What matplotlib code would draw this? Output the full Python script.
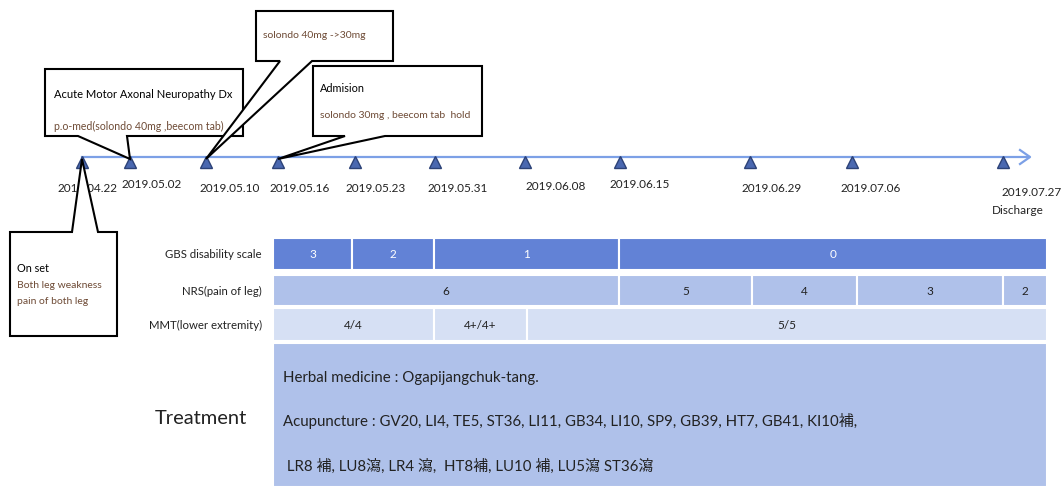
import matplotlib.pyplot as plt
from matplotlib.patches import Rectangle, Polygon

# ---- data ----
dates = ['2019.04.22', '2019.05.02', '2019.05.10', '2019.05.16', '2019.05.23', '2019.05.31',
         '2019.06.08', '2019.06.15', '2019.06.29', '2019.07.06', '2019.07.27']
row_labels = ['GBS disability scale', 'NRS(pain of leg)', 'MMT(lower extremity)']
# (label, first edge index, last edge index)
gbs = [('3', 0, 1), ('2', 1, 2), ('1', 2, 4), ('0', 4, 8)]
nrs = [('6', 0, 4), ('5', 4, 5), ('4', 5, 6), ('3', 6, 7), ('2', 7, 8)]
mmt = [('4/4', 0, 2), ('4+/4+', 2, 3), ('5/5', 3, 8)]
treatment = ['Herbal medicine : Ogapijangchuk-tang.',
             'Acupuncture : GV20, LI4, TE5, ST36, LI11, GB34, LI10, SP9, GB39, HT7, GB41, KI10補,',
             ' LR8 補, LU8瀉, LR4 瀉,  HT8補, LU10 補, LU5瀉 ST36瀉']

# ---- layout (pixel coordinates) ----
mark_x = [82, 130, 206, 278, 355, 435, 525, 620, 750, 852, 1003]
label_x = [87, 152, 230, 300, 376, 458, 556, 640, 772, 871, 1002]
label_y = [188, 185, 188, 188, 188, 188, 187, 185, 188, 188, 192]
edges = [273, 352, 434, 527, 619, 752, 857, 1003, 1047]
rows_y = [(239, 271), (276, 307), (309, 342)]
row_colors = ['#6282d6', '#afc1ea', '#d6e0f4']
text_colors = ['white', '#222222', '#222222']

FONT = ['Lato', 'Noto Sans CJK KR', 'DejaVu Sans']
BROWN = '#6e4b36'
LINE = '#7ca0e6'

fig = plt.figure(figsize=(10.63, 4.89), dpi=100)
ax = fig.add_axes([0, 0, 1, 1])
ax.set_xlim(0, 1063)
ax.set_ylim(489, 0)
ax.axis('off')

# timeline
ax.plot([mark_x[0], 1029], [158, 158], color=LINE, lw=1.6, zorder=2)
ax.plot([1020, 1030, 1020], [151, 158, 165], color=LINE, lw=1.6, zorder=2)
ax.plot(mark_x, [163] * len(mark_x), linestyle='none', marker='^', markersize=8.5,
        markerfacecolor='#4a68b0', markeredgecolor='#2c4277', markeredgewidth=1, zorder=4)
for i, d in enumerate(dates):
    ha = 'left' if i == len(dates) - 1 else 'center'
    ax.text(label_x[i], label_y[i], d, ha=ha, va='center', fontsize=8.5,
            family=FONT, color='#222222')
ax.text(992, 211, 'Discharge', ha='left', va='center', fontsize=8.5, family=FONT, color='#222222')


def callout(box, base, tip, lines):
    x0, y0, x1, y1 = box
    bx0, bx1 = base
    if tip[1] > y1:
        pts = [(x0, y0), (x1, y0), (x1, y1), (bx1, y1), tip, (bx0, y1), (x0, y1)]
    else:
        pts = [(x0, y0), (bx0, y0), tip, (bx1, y0), (x1, y0), (x1, y1), (x0, y1)]
    ax.add_patch(Polygon(pts, closed=True, facecolor='white', edgecolor='black',
                         lw=1.5, joinstyle='miter', zorder=5))
    for tx, ty, s, c, fs in lines:
        ax.text(tx, ty, s, ha='left', va='center', fontsize=fs, family=FONT,
                color=c, zorder=6)


callout((45, 70, 243, 137), (78, 127), (130, 160),
        [(54, 95, 'Acute Motor Axonal Neuropathy Dx', 'black', 8),
         (54, 126, 'p.o-med(solondo 40mg ,beecom tab)', BROWN, 7.6)])
callout((256, 12, 393, 62), (280, 312), (206, 160),
        [(263, 36, 'solondo 40mg ->30mg', BROWN, 7.5)])
callout((313, 67, 482, 137), (345, 385), (278, 160),
        [(320, 88, 'Admision', 'black', 7.8),
         (320, 115, 'solondo 30mg , beecom tab  hold', BROWN, 7.5)])
callout((10, 233, 117, 337), (72, 98), (82, 160),
        [(17, 268, 'On set', 'black', 7.8),
         (17, 285, 'Both leg weakness', BROWN, 7.5),
         (17, 302, 'pain of both leg', BROWN, 7.5)])

# table rows
for r, cells in enumerate([gbs, nrs, mmt]):
    ya, yb = rows_y[r]
    for lab, i0, i1 in cells:
        ax.add_patch(Rectangle((edges[i0], ya), edges[i1] - edges[i0], yb - ya,
                               facecolor=row_colors[r], edgecolor='white', lw=1.5, zorder=3))
        ax.text((edges[i0] + edges[i1]) / 2, (ya + yb) / 2, lab, ha='center', va='center',
                fontsize=8.5, family=FONT, color=text_colors[r], zorder=4)
    ax.text(262, (ya + yb) / 2, row_labels[r], ha='right', va='center', fontsize=8.2,
            family=FONT, color='#222222')

# treatment block
ax.add_patch(Rectangle((edges[0], 344), edges[-1] - edges[0], 144,
                       facecolor='#afc1ea', edgecolor='white', lw=1.5, zorder=3))
ax.text(201, 418, 'Treatment', ha='center', va='center', fontsize=14.5, family=FONT,
        color='#222222')
for ty, s in zip([378, 421, 466], treatment):
    ax.text(283, ty, s, ha='left', va='center', fontsize=10.8, family=FONT,
            color='#222222', zorder=4)

fig.savefig('out.png', dpi=100)
